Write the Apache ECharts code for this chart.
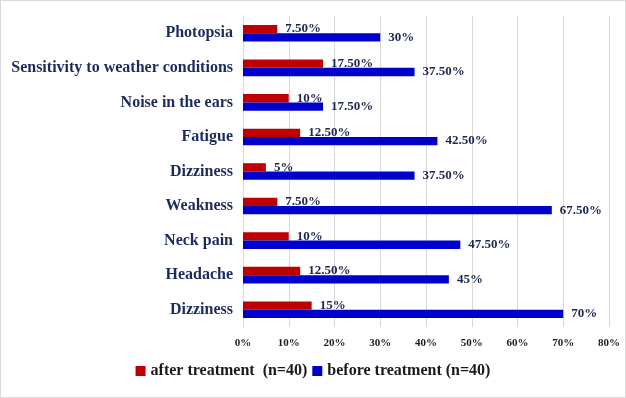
<!DOCTYPE html>
<html>
<head>
<meta charset="utf-8">
<script src="https://cdn.jsdelivr.net/npm/echarts@6/dist/echarts.min.js"></script>
<style>
  html, body { margin: 0; padding: 0; background: #fff; }
  #chart { width: 624px; height: 396px; border: 1px solid #d9d9d9; }
</style>
</head>
<body>
<div id="chart"></div>
<script>
// symptoms, bottom to top as drawn
var symptoms = ['Dizziness', 'Headache', 'Neck pain', 'Weakness', 'Dizziness',
                'Fatigue', 'Noise in the ears', 'Sensitivity to weather conditions', 'Photopsia'];
var afterTreatment = [15, 12.5, 10, 7.5, 5, 12.5, 10, 17.5, 7.5];
var beforeTreatment = [70, 45, 47.5, 67.5, 37.5, 42.5, 17.5, 37.5, 30];
var xTicks = [0, 10, 20, 30, 40, 50, 60, 70, 80];

var serif = '"Liberation Serif", "Times New Roman", serif';

function pct(v) {
    return (v % 1 === 0 ? v : v.toFixed(2)) + '%';
}

var chart = echarts.init(document.getElementById('chart'));

var labelStyle = {
    show: true,
    position: 'right',
    distance: 8,
    fontFamily: serif,
    fontWeight: 'bold',
    fontSize: 13,
    color: '#1c2550',
    formatter: function (p) { return pct(p.value); }
};

var option = {
    animation: false,
    grid: { left: 242, right: 16, top: 15, bottom: 70 },
    legend: {
        bottom: 13,
        left: 'center',
        itemWidth: 10,
        itemHeight: 10,
        itemGap: 5,
        icon: 'rect',
        textStyle: { fontFamily: serif, fontWeight: 'bold', fontSize: 16, color: '#1a1a1a' },
        data: ['after treatment  (n=40)', 'before treatment (n=40)']
    },
    xAxis: {
        type: 'value',
        min: xTicks[0],
        max: xTicks[xTicks.length - 1],
        interval: 10,
        axisLine: { show: false },
        axisTick: { show: false },
        splitLine: { lineStyle: { color: '#d9d9d9', width: 1 } },
        axisLabel: {
            margin: 11,
            fontFamily: serif,
            fontWeight: 'bold',
            fontSize: 11,
            color: '#1a1a1a',
            formatter: function (v) { return v + '%'; }
        }
    },
    yAxis: {
        type: 'category',
        data: symptoms,
        axisLine: { show: true, lineStyle: { color: '#d9d9d9' } },
        axisTick: { show: false },
        axisLabel: {
            margin: 10,
            fontFamily: serif,
            fontWeight: 'bold',
            fontSize: 16,
            color: '#1c2a5c'
        }
    },
    series: [
        {
            name: 'after treatment  (n=40)',
            type: 'bar',
            data: afterTreatment,
            barGap: '0%',
            barCategoryGap: '52%',
            itemStyle: { color: '#c00000' },
            label: labelStyle
        },
        {
            name: 'before treatment (n=40)',
            type: 'bar',
            data: beforeTreatment,
            itemStyle: { color: '#0000cc' },
            label: labelStyle
        }
    ]
};

chart.setOption(option);
</script>
</body>
</html>
